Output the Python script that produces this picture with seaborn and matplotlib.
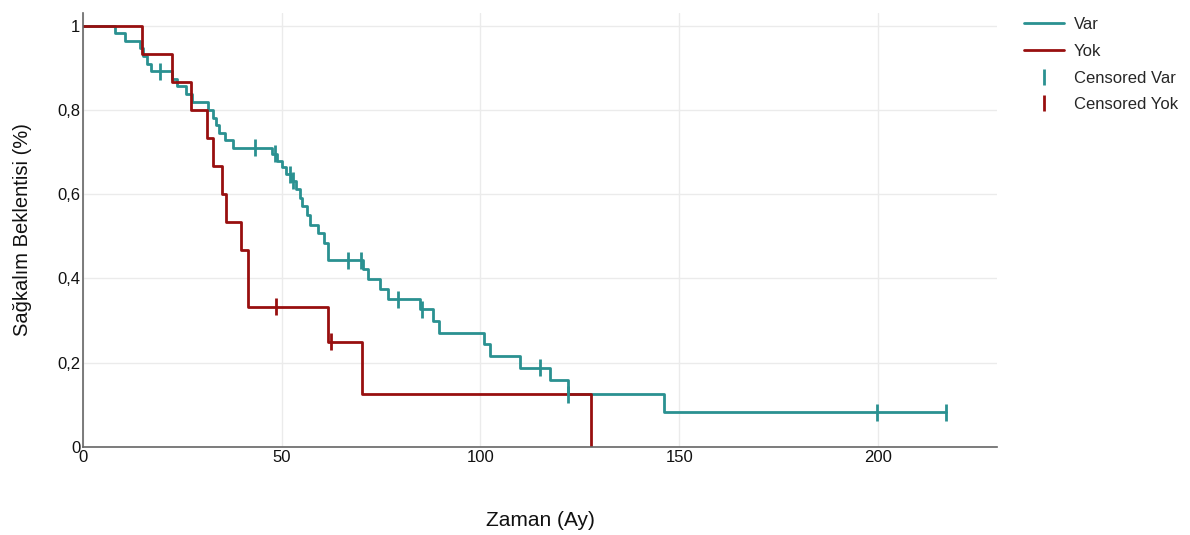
import numpy as np
import pandas as pd
import matplotlib
matplotlib.use("Agg")
import matplotlib.pyplot as plt
from matplotlib.lines import Line2D
from matplotlib.ticker import FuncFormatter
import seaborn as sns

# Kaplan-Meier step values (time in months, survival after the step)
var_times = [0, 8.0, 10.6, 14.4, 15.2, 16.0, 17.1, 22.3, 23.6, 25.9, 27.5,
             31.4, 32.6, 33.4, 34.2, 35.7, 37.8, 47.5, 48.9, 50.2, 51.2,
             52.4, 53.6, 54.6, 55.2, 56.3, 57.2, 59.2, 60.6, 61.6, 70.4,
             71.8, 74.7, 76.8, 84.8, 88.0, 89.5, 100.9, 102.4, 109.9, 117.6,
             121.9, 146.2, 217.0]
var_surv = [1.0, 0.982, 0.964, 0.946, 0.928, 0.910, 0.892, 0.874, 0.856, 0.838, 0.819,
            0.800, 0.782, 0.764, 0.746, 0.728, 0.710, 0.696, 0.680, 0.664, 0.648,
            0.632, 0.612, 0.592, 0.571, 0.550, 0.528, 0.507, 0.485, 0.443, 0.422,
            0.398, 0.374, 0.351, 0.327, 0.298, 0.270, 0.245, 0.216, 0.188, 0.159,
            0.125, 0.083, 0.083]
var_cens_t = [19.4, 43.3, 48.3, 52.0, 52.9, 66.8, 70.0, 79.2, 85.2, 114.9, 121.9, 199.8, 217.0]
var_cens_s = [0.892, 0.710, 0.696, 0.648, 0.632, 0.443, 0.443, 0.351, 0.327, 0.188, 0.125, 0.083, 0.083]

yok_times = [0, 14.8, 22.3, 27.3, 31.1, 32.6, 35.0, 36.1, 39.7, 41.6, 61.6, 70.1, 127.8]
yok_surv = [1.0, 0.933, 0.867, 0.800, 0.733, 0.667, 0.600, 0.533, 0.467, 0.333, 0.250, 0.125, 0.0]
yok_cens_t = [48.6, 62.3]
yok_cens_s = [0.333, 0.250]

groups = ["Var", "Yok"]
colors = {"Var": "#2a9191", "Yok": "#980f0f"}

steps = pd.concat([
    pd.DataFrame({"time": var_times, "surv": var_surv, "group": "Var"}),
    pd.DataFrame({"time": yok_times, "surv": yok_surv, "group": "Yok"}),
], ignore_index=True)
cens = pd.concat([
    pd.DataFrame({"time": var_cens_t, "surv": var_cens_s, "group": "Var"}),
    pd.DataFrame({"time": yok_cens_t, "surv": yok_cens_s, "group": "Yok"}),
], ignore_index=True)

sns.set_theme(style="whitegrid")
plt.rcParams["font.family"] = ["Liberation Sans", "DejaVu Sans"]

fig = plt.figure(figsize=(11.9, 5.35), dpi=100)
ax = fig.add_axes([0.0697, 0.1645, 0.7683, 0.811])

sns.lineplot(data=steps, x="time", y="surv", hue="group", palette=colors,
             drawstyle="steps-post", estimator=None, linewidth=2.0,
             legend=False, ax=ax)
sns.scatterplot(data=cens, x="time", y="surv", hue="group", palette=colors,
                marker="|", s=150, linewidth=2.0, legend=False, ax=ax, zorder=3)

ax.set_xlim(0, 230)
ax.set_ylim(0, 1.03)
ax.set_xticks([0, 50, 100, 150, 200])
ax.set_yticks([0, 0.2, 0.4, 0.6, 0.8, 1.0])
ax.yaxis.set_major_formatter(FuncFormatter(lambda v, p: f"{v:g}".replace(".", ",")))
ax.tick_params(axis="both", labelsize=12, length=0, pad=2, colors="#111111")

ax.grid(True, color="#ebebeb", linewidth=1)
for side in ["top", "right"]:
    ax.spines[side].set_visible(False)
for side in ["left", "bottom"]:
    ax.spines[side].set_color("#666666")
    ax.spines[side].set_linewidth(1.2)

ax.set_xlabel("Zaman (Ay)", fontsize=15, labelpad=33, color="#111111")
ax.set_ylabel("Sağkalım Beklentisi (%)", fontsize=14.5, labelpad=18, color="#111111")

handles = [
    Line2D([], [], color=colors["Var"], linewidth=2.0),
    Line2D([], [], color=colors["Yok"], linewidth=2.0),
    Line2D([], [], color=colors["Var"], marker="|", linestyle="none", markersize=11, markeredgewidth=2.0),
    Line2D([], [], color=colors["Yok"], marker="|", linestyle="none", markersize=11, markeredgewidth=2.0),
]
labels = ["Var", "Yok", "Censored Var", "Censored Yok"]
ax.legend(handles, labels, loc="upper left", bbox_to_anchor=(1.013, 1.025),
          frameon=False, fontsize=12, handlelength=2.4, handletextpad=0.6,
          labelspacing=0.7)

fig.savefig("out.png", dpi=100)
